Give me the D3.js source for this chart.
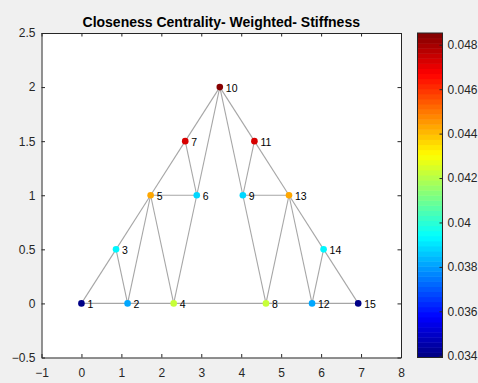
<html>
<head>
<meta charset="utf-8" />
<style>
  html, body { margin: 0; padding: 0; background: #f0f0f0; }
  svg { display: block; font-family: "Liberation Sans", Arial, sans-serif; }
</style>
</head>
<body>
<svg id="chart" width="478" height="383"></svg>
<script src="https://cdn.jsdelivr.net/npm/d3@7/dist/d3.min.js"></script>
<script>
// node positions of the truss (x, y) and their closeness values
var nodeIds = [1, 2, 3, 4, 5, 6, 7, 8, 9, 10, 11, 12, 13, 14, 15];
var nodeX = [0, 1.155, 0.866, 2.309, 1.732, 2.887, 2.598, 4.619, 4.041, 3.464, 4.330, 5.773, 5.196, 6.062, 6.928];
var nodeY = [0, 0, 0.5, 0, 1, 1, 1.5, 0, 1, 2, 1.5, 0, 1, 0.5, 0];
var closeness = [0.03392, 0.03819, 0.03918, 0.04225, 0.04440, 0.03874, 0.04722, 0.04225,
                 0.03874, 0.04853, 0.04722, 0.03819, 0.04440, 0.03918, 0.03392];
var edges = [[1, 2], [2, 4], [4, 8], [8, 12], [12, 15],
             [1, 3], [3, 5], [5, 7], [7, 10], [10, 11], [11, 13], [13, 14], [14, 15],
             [2, 3], [2, 5], [4, 5], [4, 6], [5, 6], [6, 7], [6, 10],
             [9, 10], [9, 11], [8, 9], [9, 13], [8, 13], [12, 13], [12, 14]];
var xTicks = [-1, 0, 1, 2, 3, 4, 5, 6, 7, 8];
var yTicks = [-0.5, 0, 0.5, 1, 1.5, 2, 2.5];
var cbTicks = [0.034, 0.036, 0.038, 0.04, 0.042, 0.044, 0.046, 0.048];
var title = "Closeness Centrality- Weighted- Stiffness";

var svg = d3.select("#chart");
var axCol = "#262626";

var x = d3.scaleLinear().domain([-1, 8]).range([41.5, 401]);
var y = d3.scaleLinear().domain([-0.5, 2.5]).range([357.5, 33]);

var cmin = d3.min(closeness), cmax = d3.max(closeness);
var nLevels = 64;

// matlab jet colormap, 64 levels
function jet(f) {
  var k = Math.min(nLevels - 1, Math.floor(f * nLevels));
  var t = (k + 0.5) / nLevels;
  function c(v) { return Math.round(255 * Math.max(0, Math.min(1, v))); }
  return d3.rgb(c(1.5 - Math.abs(4 * t - 3)), c(1.5 - Math.abs(4 * t - 2)), c(1.5 - Math.abs(4 * t - 1))).toString();
}
var color = function(v) { return jet((v - cmin) / (cmax - cmin)); };

// axes background
svg.append("rect")
  .attr("x", x(-1)).attr("y", y(2.5))
  .attr("width", x(8) - x(-1)).attr("height", y(-0.5) - y(2.5))
  .attr("fill", "#fff");

var nodes = nodeIds.map(function(id, i) {
  return { id: id, x: nodeX[i], y: nodeY[i], v: closeness[i] };
});
var byId = {};
nodes.forEach(function(n) { byId[n.id] = n; });

svg.append("g").selectAll("line")
  .data(edges).enter().append("line")
  .attr("x1", function(d) { return x(byId[d[0]].x); })
  .attr("y1", function(d) { return y(byId[d[0]].y); })
  .attr("x2", function(d) { return x(byId[d[1]].x); })
  .attr("y2", function(d) { return y(byId[d[1]].y); })
  .attr("stroke", "#a6a6a6")
  .attr("stroke-width", 1.1);

svg.append("g").selectAll("circle")
  .data(nodes).enter().append("circle")
  .attr("cx", function(d) { return x(d.x); })
  .attr("cy", function(d) { return y(d.y); })
  .attr("r", 3.3)
  .attr("fill", function(d) { return color(d.v); });

svg.append("g").selectAll("text")
  .data(nodes).enter().append("text")
  .attr("x", function(d) { return x(d.x) + 6; })
  .attr("y", function(d) { return y(d.y) + 4.5; })
  .attr("font-size", 10.5)
  .attr("fill", "#000")
  .text(function(d) { return d.id; });

// axes with inward ticks, box on
function styleAxis(g) {
  g.selectAll("path").attr("stroke", axCol);
  g.selectAll("line").attr("stroke", axCol);
  g.selectAll("text").attr("fill", axCol).attr("font-size", 12);
}
svg.append("g").attr("transform", "translate(0," + y(-0.5) + ")")
  .call(d3.axisBottom(x).tickValues(xTicks).tickSizeInner(-3.5).tickSizeOuter(0).tickPadding(10.5))
  .call(styleAxis);
svg.append("g").attr("transform", "translate(0," + y(2.5) + ")")
  .call(d3.axisTop(x).tickValues(xTicks).tickSizeInner(-3.5).tickSizeOuter(0).tickFormat(""))
  .call(styleAxis);
svg.append("g").attr("transform", "translate(" + x(-1) + ",0)")
  .call(d3.axisLeft(y).tickValues(yTicks).tickSizeInner(-3.5).tickSizeOuter(0).tickPadding(6).tickFormat(d3.format("")))
  .call(styleAxis);
svg.append("g").attr("transform", "translate(" + x(8) + ",0)")
  .call(d3.axisRight(y).tickValues(yTicks).tickSizeInner(-3.5).tickSizeOuter(0).tickFormat(""))
  .call(styleAxis);

svg.append("text")
  .attr("x", (x(-1) + x(8)) / 2).attr("y", 26.5)
  .attr("text-anchor", "middle")
  .attr("font-size", 14).attr("font-weight", "bold")
  .attr("fill", "#000")
  .text(title);

// colorbar
var cbX = 417.5, cbW = 25;
var cy = d3.scaleLinear().domain([cmin, cmax]).range([y(-0.5), y(2.5)]);
var levels = d3.range(nLevels);
var lvH = (cy(cmin) - cy(cmax)) / nLevels;
svg.append("g").selectAll("rect")
  .data(levels).enter().append("rect")
  .attr("x", cbX)
  .attr("y", function(k) { return cy(cmin) - (k + 1) * lvH; })
  .attr("width", cbW)
  .attr("height", lvH + 0.5)
  .attr("fill", function(k) { return jet((k + 0.5) / nLevels); });
svg.append("rect")
  .attr("x", cbX).attr("y", cy(cmax))
  .attr("width", cbW).attr("height", cy(cmin) - cy(cmax))
  .attr("fill", "none").attr("stroke", axCol);
svg.append("g").attr("transform", "translate(" + (cbX + cbW) + ",0)")
  .call(d3.axisRight(cy).tickValues(cbTicks).tickSizeInner(-3).tickSizeOuter(0).tickPadding(5).tickFormat(d3.format("")))
  .call(styleAxis)
  .call(function(g) { g.select(".domain").remove(); });
</script>
</body>
</html>
